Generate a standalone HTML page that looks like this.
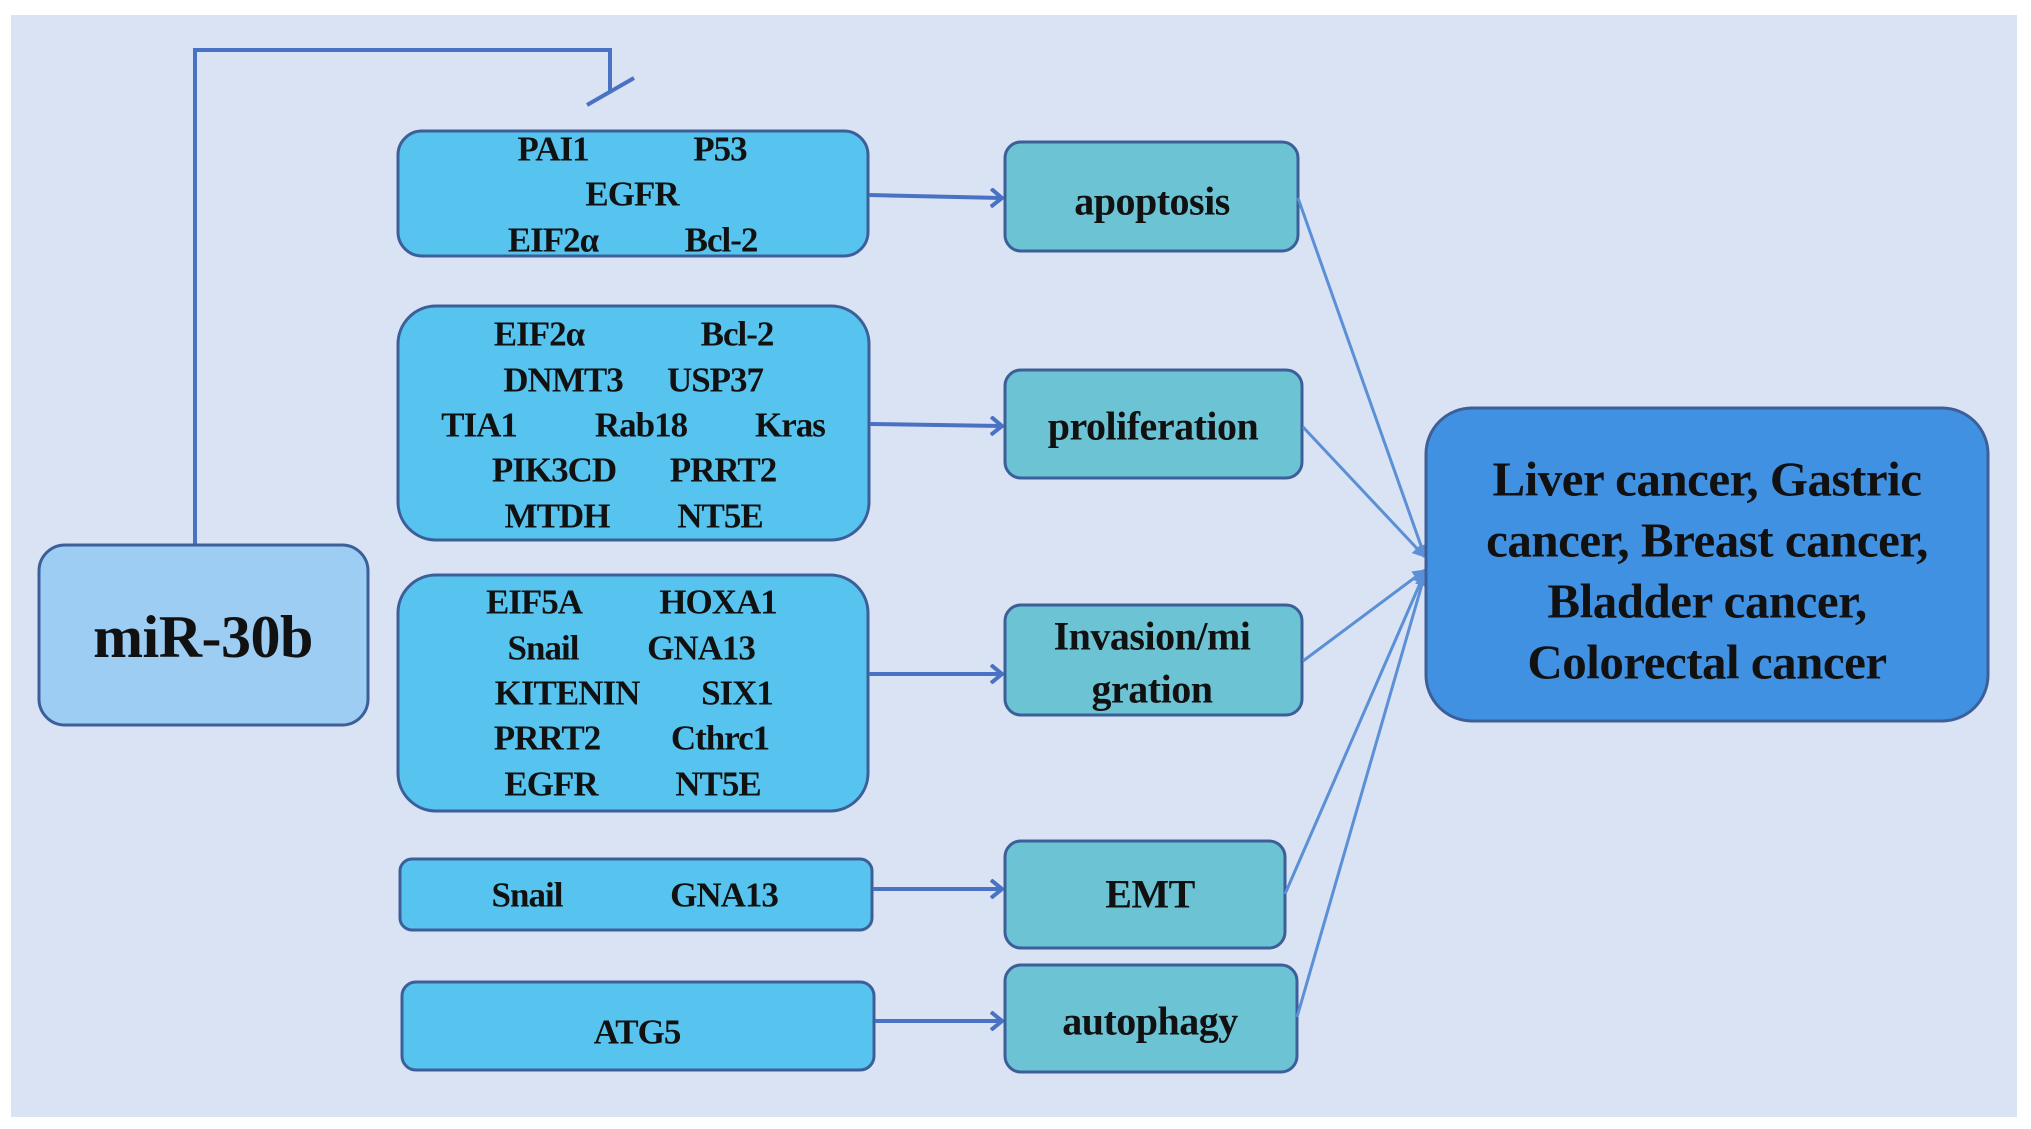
<!DOCTYPE html>
<html><head><meta charset="utf-8"><style>
html,body{margin:0;padding:0;background:#fff;}
svg{display:block;}
text{font-family:"Liberation Serif","Times New Roman",Times,"DejaVu Serif",serif;font-weight:bold;fill:#111;text-anchor:middle;dominant-baseline:central;}
.g{font-size:35px;letter-spacing:-1px;}
.m{font-size:40px;letter-spacing:-0.5px;}
.b{font-size:49px;letter-spacing:-0.5px;}
</style></head><body>
<svg width="2031" height="1129" viewBox="0 0 2031 1129" xmlns="http://www.w3.org/2000/svg">
<defs>
<marker id="oa" markerWidth="14" markerHeight="20" refX="12" refY="10" orient="auto" markerUnits="userSpaceOnUse">
<path d="M1,1 L12,10 L1,19" fill="none" stroke="#4a72c4" stroke-width="4"/>
</marker>
<marker id="fa" markerWidth="14" markerHeight="14" refX="12" refY="7" orient="auto" markerUnits="userSpaceOnUse">
<path d="M0,0 L13,7 L0,14 Z" fill="#5b8fd6"/>
</marker>
</defs>
<rect x="0" y="0" width="2031" height="1129" fill="#fff"/>
<rect x="11" y="15" width="2006" height="1102" fill="#dae3f3"/>
<polyline points="195,545 195,50 610,50 610,92" fill="none" stroke="#4a72c4" stroke-width="4"/>
<line x1="587" y1="105" x2="634" y2="78" stroke="#4a72c4" stroke-width="4"/>
<rect x="39" y="545" width="329" height="180" rx="26" fill="#9dcdf3" stroke="#3d5f99" stroke-width="3"/>
<text x="203" y="637" style="font-size:60px;letter-spacing:-0.5px">miR-30b</text>
<g fill="#56c4ee" stroke="#3d5f99" stroke-width="3">
<rect x="398" y="131" width="470" height="125" rx="24"/>
<rect x="398" y="306" width="471" height="234" rx="38"/>
<rect x="398" y="575" width="470" height="236" rx="38"/>
<rect x="400" y="859" width="472" height="71" rx="12"/>
<rect x="402" y="982" width="472" height="88" rx="14"/>
</g>
<g class="g">
<text x="553" y="149">PAI1</text><text x="720" y="149">P53</text>
<text x="632" y="194">EGFR</text>
<text x="553" y="240">EIF2α</text><text x="721" y="240">Bcl-2</text>
<text x="539" y="334">EIF2α</text><text x="737" y="334">Bcl-2</text>
<text x="563" y="380">DNMT3</text><text x="715" y="380">USP37</text>
<text x="479" y="425">TIA1</text><text x="641" y="425">Rab18</text><text x="790" y="425">Kras</text>
<text x="554" y="470">PIK3CD</text><text x="723" y="470">PRRT2</text>
<text x="557" y="516">MTDH</text><text x="720" y="516">NT5E</text>
<text x="534" y="602">EIF5A</text><text x="718" y="602">HOXA1</text>
<text x="543" y="648">Snail</text><text x="701" y="648">GNA13</text>
<text x="567" y="693">KITENIN</text><text x="737" y="693">SIX1</text>
<text x="547" y="738">PRRT2</text><text x="720" y="738">Cthrc1</text>
<text x="551" y="784">EGFR</text><text x="718" y="784">NT5E</text>
<text x="527" y="895">Snail</text><text x="724" y="895">GNA13</text>
<text x="637" y="1032">ATG5</text>
</g>
<g stroke="#4a72c4" stroke-width="4" fill="none" marker-end="url(#oa)">
<line x1="869" y1="195" x2="1002" y2="198"/>
<line x1="870" y1="424" x2="1002" y2="426"/>
<line x1="869" y1="674" x2="1002" y2="674"/>
<line x1="873" y1="889" x2="1002" y2="889"/>
<line x1="875" y1="1021" x2="1002" y2="1021"/>
</g>
<g fill="#6cc3d4" stroke="#3d5f99" stroke-width="3">
<rect x="1005" y="142" width="293" height="109" rx="16"/>
<rect x="1005" y="370" width="297" height="108" rx="16"/>
<rect x="1005" y="605" width="297" height="110" rx="16"/>
<rect x="1005" y="841" width="280" height="107" rx="16"/>
<rect x="1005" y="965" width="292" height="107" rx="16"/>
</g>
<g class="m">
<text x="1152" y="201">apoptosis</text>
<text x="1153" y="426">proliferation</text>
<text x="1152" y="636">Invasion/mi</text>
<text x="1152" y="689">gration</text>
<text x="1150" y="894">EMT</text>
<text x="1150" y="1021">autophagy</text>
</g>
<g stroke="#5b8fd6" stroke-width="3" fill="none" marker-end="url(#fa)">
<line x1="1298" y1="198" x2="1425" y2="557"/>
<line x1="1303" y1="427" x2="1425" y2="557"/>
<line x1="1303" y1="661" x2="1425" y2="570"/>
<line x1="1285" y1="894" x2="1425" y2="572"/>
<line x1="1297" y1="1017" x2="1425" y2="574"/>
</g>
<rect x="1426" y="408" width="562" height="313" rx="46" fill="#4191e2" stroke="#3d5f99" stroke-width="3"/>
<g class="b">
<text x="1707" y="479">Liver cancer, Gastric</text>
<text x="1707" y="540">cancer, Breast cancer,</text>
<text x="1707" y="601">Bladder cancer,</text>
<text x="1707" y="662">Colorectal cancer</text>
</g>
</svg>
</body></html>
